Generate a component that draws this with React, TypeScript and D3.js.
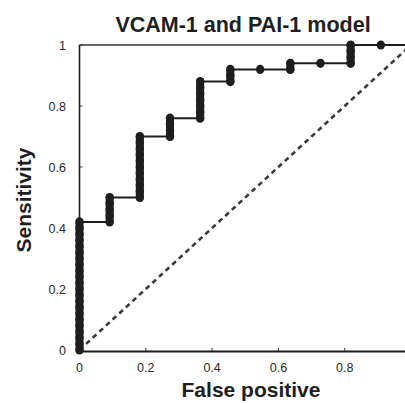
import React from 'react';
import * as d3 from 'd3';

// ROC steps: false positive rate (k/11 negatives) and the sensitivity range covered at that rate
const falsePositive = [0, 0.091, 0.182, 0.273, 0.364, 0.455, 0.545, 0.636, 0.727, 0.818, 0.909, 1.0];
const sensLow = [0, 0.42, 0.5, 0.7, 0.76, 0.88, 0.92, 0.92, 0.94, 0.94, 1.0, 1.0];
const sensHigh = [0.42, 0.5, 0.7, 0.76, 0.88, 0.92, 0.92, 0.94, 0.94, 1.0, 1.0, 1.0];
const positives = 50;

const xTicks = [0, 0.2, 0.4, 0.6, 0.8];
const yTicks = [0, 0.2, 0.4, 0.6, 0.8, 1];
const xTickLabels = ['0', '0.2', '0.4', '0.6', '0.8'];
const yTickLabels = ['0', '0.2', '0.4', '0.6', '0.8', '1'];

const W = 405;
const H = 403;
const x = d3.scaleLinear().domain([0, 1]).range([79.5, 411]);
const y = d3.scaleLinear().domain([0, 1]).range([350, 45]);

export default function App() {
  // step path through the ROC points
  const pts: [number, number][] = [];
  falsePositive.forEach((fp, i) => {
    pts.push([fp, sensLow[i]]);
    pts.push([fp, sensHigh[i]]);
  });
  const line = d3
    .line<[number, number]>()
    .x(d => x(d[0]))
    .y(d => y(d[1]));

  // one marker per positive case along each vertical run
  const markers: [number, number][] = [];
  falsePositive.forEach((fp, i) => {
    const a = Math.round(sensLow[i] * positives);
    const b = Math.round(sensHigh[i] * positives);
    for (let k = a; k <= b; k++) markers.push([fp, k / positives]);
  });

  const font = 'Arial, "Liberation Sans", Helvetica, sans-serif';
  const ink = '#1e1e1e';

  return (
    <svg
      width={W}
      height={H}
      style={{ position: 'absolute', left: 0, top: 0, background: '#fff' }}
      fontFamily={font}
    >
      <text x={243} y={32} textAnchor="middle" fontSize={21.5} fontWeight="bold" fill={ink}>
        VCAM-1 and PAI-1 model
      </text>

      {/* frame */}
      <line x1={x(0)} x2={W} y1={y(1)} y2={y(1)} stroke="#333" strokeWidth={1.6} />
      <line x1={x(0)} x2={x(0)} y1={y(1)} y2={y(0)} stroke={ink} strokeWidth={1.6} />
      <line x1={x(0) - 2} x2={W} y1={y(0) + 1.5} y2={y(0) + 1.5} stroke={ink} strokeWidth={1.8} />

      {yTicks.map((t, i) => (
        <g key={'y' + t}>
          <line x1={x(0)} x2={x(0) + 3} y1={y(t)} y2={y(t)} stroke="#333" strokeWidth={1} />
          <text x={66} y={y(t)} dy="0.36em" textAnchor="end" fontSize={12.5} fill="#2a2a2a">
            {yTickLabels[i]}
          </text>
        </g>
      ))}
      {xTicks.map((t, i) => (
        <g key={'x' + t}>
          <line x1={x(t)} x2={x(t)} y1={y(0) + 1} y2={y(0) - 2} stroke="#333" strokeWidth={1} />
          <text x={x(t)} y={372} textAnchor="middle" fontSize={12.5} fill="#2a2a2a">
            {xTickLabels[i]}
          </text>
        </g>
      ))}

      {/* chance diagonal */}
      <line
        x1={x(0)}
        y1={y(0)}
        x2={x(1)}
        y2={y(1)}
        stroke="#3a3a3a"
        strokeWidth={2.6}
        strokeDasharray="5,4"
      />

      <path d={line(pts) ?? ''} fill="none" stroke={ink} strokeWidth={2} />
      {/* runs of overlapping markers read as solid bars */}
      {falsePositive.map((fp, i) =>
        sensHigh[i] > sensLow[i] ? (
          <line
            key={'run' + i}
            x1={x(fp)}
            x2={x(fp)}
            y1={y(sensLow[i])}
            y2={y(sensHigh[i])}
            stroke={ink}
            strokeWidth={8}
            strokeLinecap="round"
          />
        ) : null
      )}
      {markers.map((d, i) => (
        <ellipse key={i} cx={x(d[0])} cy={y(d[1])} rx={4.2} ry={4.6} fill={ink} />
      ))}

      <text x={251} y={397} textAnchor="middle" fontSize={21} fontWeight="bold" fill={ink}>
        False positive
      </text>
      <text
        transform="translate(31,200) rotate(-90)"
        textAnchor="middle"
        fontSize={21}
        fontWeight="bold"
        fill={ink}
      >
        Sensitivity
      </text>
    </svg>
  );
}
